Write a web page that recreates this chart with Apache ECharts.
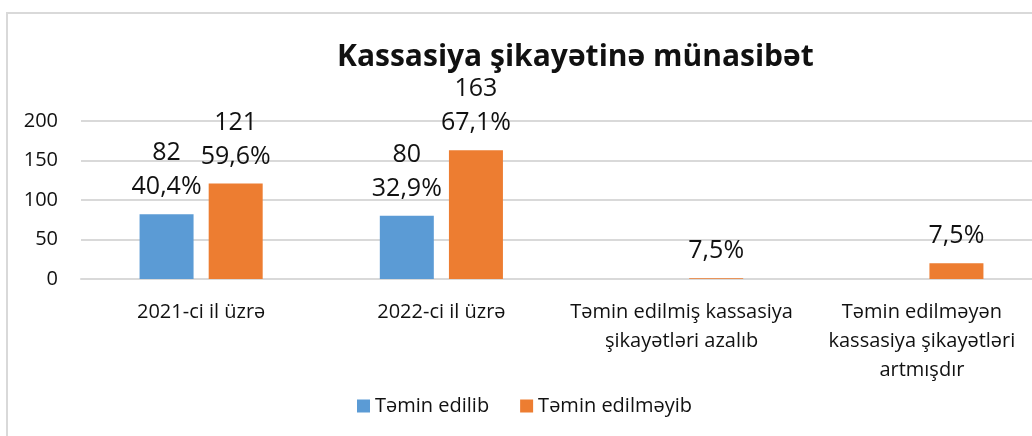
<!DOCTYPE html>
<html>
<head>
<meta charset="utf-8">
<script src="https://cdn.jsdelivr.net/npm/echarts@6/dist/echarts.min.js"></script>
<style>
html,body{margin:0;padding:0;background:#fff;}
#chart{width:1032px;height:436px;}
</style>
</head>
<body>
<div id="chart"></div>
<script>
const titleText = 'Kassasiya şikayətinə münasibət';
const categories = [
  '2021-ci il üzrə',
  '2022-ci il üzrə',
  'Təmin edilmiş kassasiya\nşikayətləri azalıb',
  'Təmin edilməyən\nkassasiya şikayətləri\nartmışdır'
];
const seriesNames = ['Təmin edilib', 'Təmin edilməyib'];
const providedValues = [82, 80, '-', '-'];
const providedPct = ['40,4%', '32,9%', '', ''];
const notProvidedValues = [121, 163, 1, 20];
const notProvidedPct = ['59,6%', '67,1%', '7,5%', '7,5%'];
const notProvidedShowValue = [true, true, false, false];
const yTicks = { min: 0, max: 200, interval: 50 };

const FONT = '"Open Sans", "Noto Sans", sans-serif';
const TXT = '#111';

function labelFor(pcts, showVals) {
  return function (p) {
    const pct = pcts[p.dataIndex];
    if (showVals && showVals[p.dataIndex] === false) return pct;
    return p.value + '\n' + pct;
  };
}

const chart = echarts.init(document.getElementById('chart'), null, { renderer: 'canvas' });
chart.setOption({
  animation: false,
  backgroundColor: '#fff',
  textStyle: { fontFamily: FONT },
  graphic: [{
    type: 'rect',
    shape: { x: 7, y: 13, width: 1100, height: 600 },
    style: { fill: 'none', stroke: '#D9D9D9', lineWidth: 2 },
    silent: true, z: -1
  }],
  title: {
    text: titleText,
    left: 332, top: 37,
    textStyle: { fontFamily: FONT, fontWeight: 'bold', fontSize: 30, color: TXT }
  },
  legend: {
    left: 352, top: 391,
    itemWidth: 13, itemHeight: 13, itemGap: 31,
    icon: 'rect',
    textStyle: { fontFamily: FONT, fontSize: 20, color: TXT },
    data: seriesNames
  },
  grid: { left: 81, width: 961, top: 121, height: 158, containLabel: false, outerBoundsMode: 'none' },
  xAxis: {
    type: 'category',
    data: categories,
    axisLine: { lineStyle: { color: '#D9D9D9', width: 2 } },
    axisTick: { show: false },
    axisLabel: { fontFamily: FONT, fontSize: 20, color: TXT, lineHeight: 29, margin: 19, interval: 0 }
  },
  yAxis: {
    type: 'value',
    min: yTicks.min, max: yTicks.max, interval: yTicks.interval,
    axisLine: { show: false },
    axisTick: { show: false },
    axisLabel: { fontFamily: FONT, fontSize: 20, color: TXT, margin: 23 },
    splitLine: { lineStyle: { color: '#D9D9D9', width: 2 } }
  },
  series: [
    {
      name: seriesNames[0], type: 'bar', data: providedValues,
      barWidth: 54, barGap: '28%',
      itemStyle: { color: '#5B9BD5' },
      label: { show: true, position: 'top', distance: 10, fontFamily: FONT, fontSize: 25, lineHeight: 34, color: TXT, formatter: labelFor(providedPct) }
    },
    {
      name: seriesNames[1], type: 'bar', data: notProvidedValues,
      barWidth: 54, barGap: '28%',
      itemStyle: { color: '#ED7D31' },
      label: { show: true, position: 'top', distance: 10, fontFamily: FONT, fontSize: 25, lineHeight: 34, color: TXT, formatter: labelFor(notProvidedPct, notProvidedShowValue) }
    }
  ]
});
</script>
</body>
</html>
